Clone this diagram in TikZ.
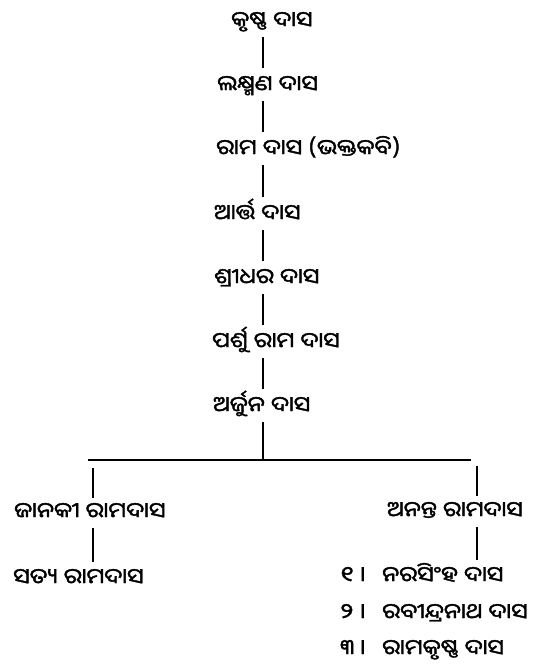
\documentclass[tikz,border=0pt]{standalone}
\usepackage{fontspec}
\newfontfamily\oriya[Script=Oriya, FakeBold=1.8, FakeStretch=1.14]{Noto Sans Oriya UI}

\begin{document}
\begin{tikzpicture}[x=1pt, y=-1pt, every node/.style={font=\oriya\fontsize{21}{24}\selectfont, inner sep=0pt, text height=13pt, text depth=3pt},
    link/.style={line width=1.5pt}]
  \useasboundingbox (0,0) rectangle (544,669);
  \coordinate (T) at (263,0);
  \node[anchor=west] (K1) at (231,23) {କୃଷ୍ଣ ଦାସ};
  \node[anchor=west] (K2) at (217,87) {ଲକ୍ଷ୍ମଣ ଦାସ};
  \node[anchor=west] (K3) at (216,151) {ରାମ ଦାସ (ଭକ୍ତକବି)};
  \node[anchor=west] (K4) at (214,216) {ଆର୍ତ୍ତ ଦାସ};
  \node[anchor=west] (K5) at (214,280) {ଶ୍ରୀଧର ଦାସ};
  \node[anchor=west] (K6) at (212,344) {ପର୍ଶୁ ରାମ ଦାସ};
  \node[anchor=west] (K7) at (213,408) {ଅର୍ଜୁନ ଦାସ};
  \coordinate (bar) at (0,460);
  \coordinate (L) at (93,0);  \coordinate (R) at (477,0);
  \node[anchor=west] (J) at (14,514) {ଜାନକୀ ରାମଦାସ};
  \node[anchor=west] (S) at (13,580) {ସତ୍ୟ ରାମଦାସ};
  \node[anchor=west] (A) at (387,513) {ଅନନ୍ତ ରାମଦାସ};
  \node[anchor=east] (N1) at (366,578) {୧ ।};
  \node[anchor=east] (N2) at (366,615) {୨ ।};
  \node[anchor=east] (N3) at (366,651) {୩ ।};
  \node[anchor=west] (C1) at (382,578) {ନରସିଂହ ଦାସ};
  \node[anchor=west] (C2) at (382,615) {ରବୀନ୍ଦ୍ରନାଥ ଦାସ};
  \node[anchor=west] (C3) at (382,651) {ରାମକୃଷ୍ଣ ଦାସ};
  \draw[link] ([yshift=-6pt]K1.south -| T) -- ([yshift=11pt]K2.north -| T);
  \draw[link] ([yshift=-6pt]K2.south -| T) -- ([yshift=11pt]K3.north -| T);
  \draw[link] ([yshift=-6pt]K3.south -| T) -- ([yshift=11pt]K4.north -| T);
  \draw[link] ([yshift=-6pt]K4.south -| T) -- ([yshift=11pt]K5.north -| T);
  \draw[link] ([yshift=-6pt]K5.south -| T) -- ([yshift=11pt]K6.north -| T);
  \draw[link] ([yshift=-6pt]K6.south -| T) -- ([yshift=11pt]K7.north -| T);
  \draw[link] ([yshift=-6pt]K7.south -| T) -- (T |- bar);
  \draw[line width=1.2pt] ([xshift=-5pt]L |- bar) -- ([xshift=-6pt]R |- bar);
  \draw[link] ([yshift=-8pt]L |- bar) -- ([yshift=8pt]J.north -| L);
  \draw[link] ([yshift=-6pt]J.south -| L) -- ([yshift=10pt]S.north -| L);
  \draw[link] ([yshift=-6pt]R |- bar) -- ([yshift=9pt]A.north -| R);
  \draw[link] ([yshift=-6pt]A.south -| R) -- ([yshift=10pt]C1.north -| R);
\end{tikzpicture}
\end{document}
